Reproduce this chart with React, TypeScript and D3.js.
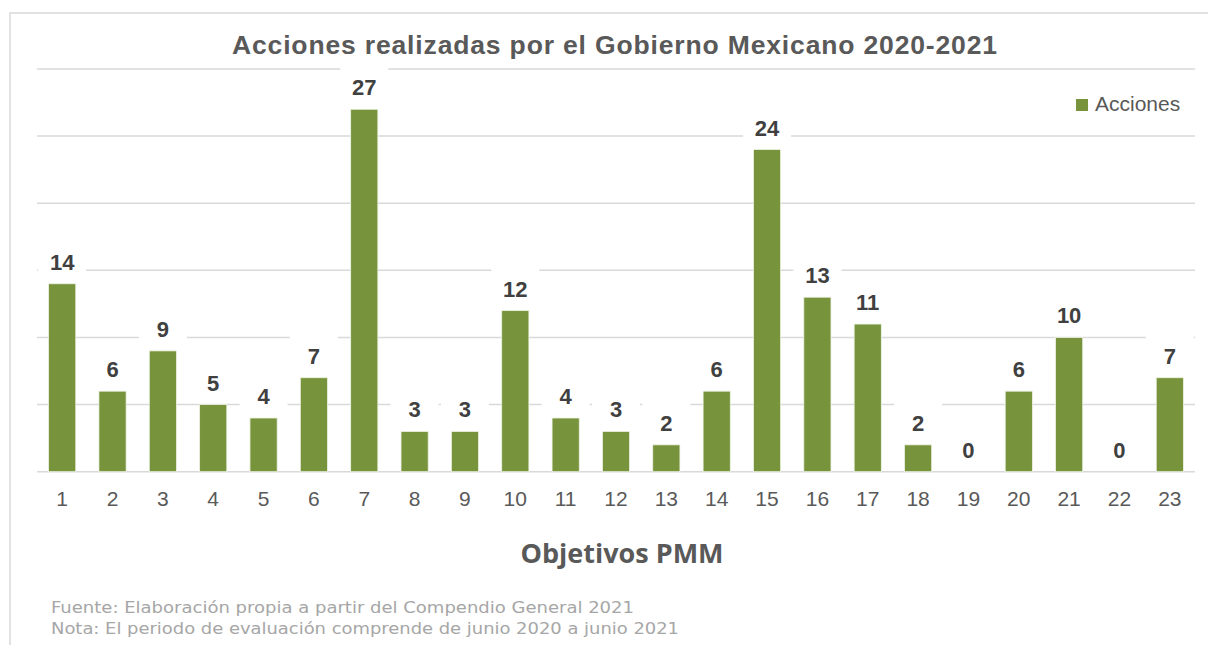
import React from 'react';
import * as d3 from 'd3';

const objetivos = ['1', '2', '3', '4', '5', '6', '7', '8', '9', '10', '11', '12', '13', '14', '15', '16', '17', '18', '19', '20', '21', '22', '23'];
const acciones = [14, 6, 9, 5, 4, 7, 27, 3, 3, 12, 4, 3, 2, 6, 24, 13, 11, 2, 0, 6, 10, 0, 7];
const gridTicks = [0, 5, 10, 15, 20, 25, 30];

const W = 1208;
const H = 645;
const BAR = '#77933C';
const GRID = '#d9d9d9';

const App: React.FC = () => {
  const x = d3.scaleBand<string>()
    .domain(objetivos)
    .range([37, 1195])
    .paddingInner(0.46)
    .paddingOuter(0.23);

  const y = d3.scaleLinear().domain([0, 30]).range([471.7, 69]);

  return (
    <div style={{ position: 'absolute', left: 0, top: 0 }}>
      <svg width={W} height={H} style={{ display: 'block', background: '#fff' }}>
        {/* marco del gráfico */}
        <rect x={10} y={13} width={1300} height={700} fill="#fff" stroke={GRID} strokeWidth={1.5} />

        <text x={614.5} y={54} textAnchor="middle" fontFamily="'Liberation Sans', Arial, sans-serif"
          fontWeight="bold" fontSize={26.5} fill="#595959" textLength={765} lengthAdjust="spacing">
          Acciones realizadas por el Gobierno Mexicano 2020-2021
        </text>

        {/* líneas de cuadrícula */}
        {gridTicks.map(t => (
          <line key={t} x1={37} x2={1195} y1={y(t)} y2={y(t)} stroke={GRID} strokeWidth={1.5} />
        ))}

        {/* barras */}
        {acciones.map((v, i) => {
          const cat = objetivos[i];
          return (
            <rect key={cat} x={x(cat)} y={y(v)} width={x.bandwidth()} height={y(0) - y(v)}
              fill={BAR} stroke="#eef3e4" strokeWidth={0.8} />
          );
        })}

        {/* etiquetas de datos */}
        {acciones.map((v, i) => {
          const cat = objetivos[i];
          const cx = (x(cat) || 0) + x.bandwidth() / 2;
          const base = y(v) - 14;
          return (
            <g key={'l' + cat}>
              <rect x={cx - 24} y={base - 28} width={48} height={34} fill="#fff" />
              <text x={cx} y={base} textAnchor="middle" fontFamily="'Liberation Sans', Arial, sans-serif"
                fontWeight="bold" fontSize={22} fill="#404040">{v}</text>
            </g>
          );
        })}

        {/* etiquetas del eje x */}
        {objetivos.map(c => (
          <text key={'t' + c} x={(x(c) || 0) + x.bandwidth() / 2} y={506} textAnchor="middle"
            fontFamily="'Liberation Sans', Arial, sans-serif" fontSize={21} fill="#595959">{c}</text>
        ))}

        <text x={622} y={563} textAnchor="middle" fontFamily="'Open Sans', sans-serif"
          fontWeight="bold" fontSize={27} fill="#595959">Objetivos PMM</text>

        {/* leyenda */}
        <rect x={1076} y={99} width={12} height={12} fill={BAR} />
        <text x={1095} y={111} fontFamily="'Liberation Sans', Arial, sans-serif" fontSize={21} fill="#595959">Acciones</text>

        {/* notas */}
        <text x={51} y={613} fontFamily="'DejaVu Sans', sans-serif" fontSize={16} fill="#a6a6a6"
          textLength={583} lengthAdjust="spacingAndGlyphs">
          Fuente: Elaboración propia a partir del Compendio General 2021
        </text>
        <text x={51} y={634} fontFamily="'DejaVu Sans', sans-serif" fontSize={16} fill="#a6a6a6"
          textLength={628} lengthAdjust="spacingAndGlyphs">
          Nota: El periodo de evaluación comprende de junio 2020 a junio 2021
        </text>
      </svg>
    </div>
  );
};

export default App;
